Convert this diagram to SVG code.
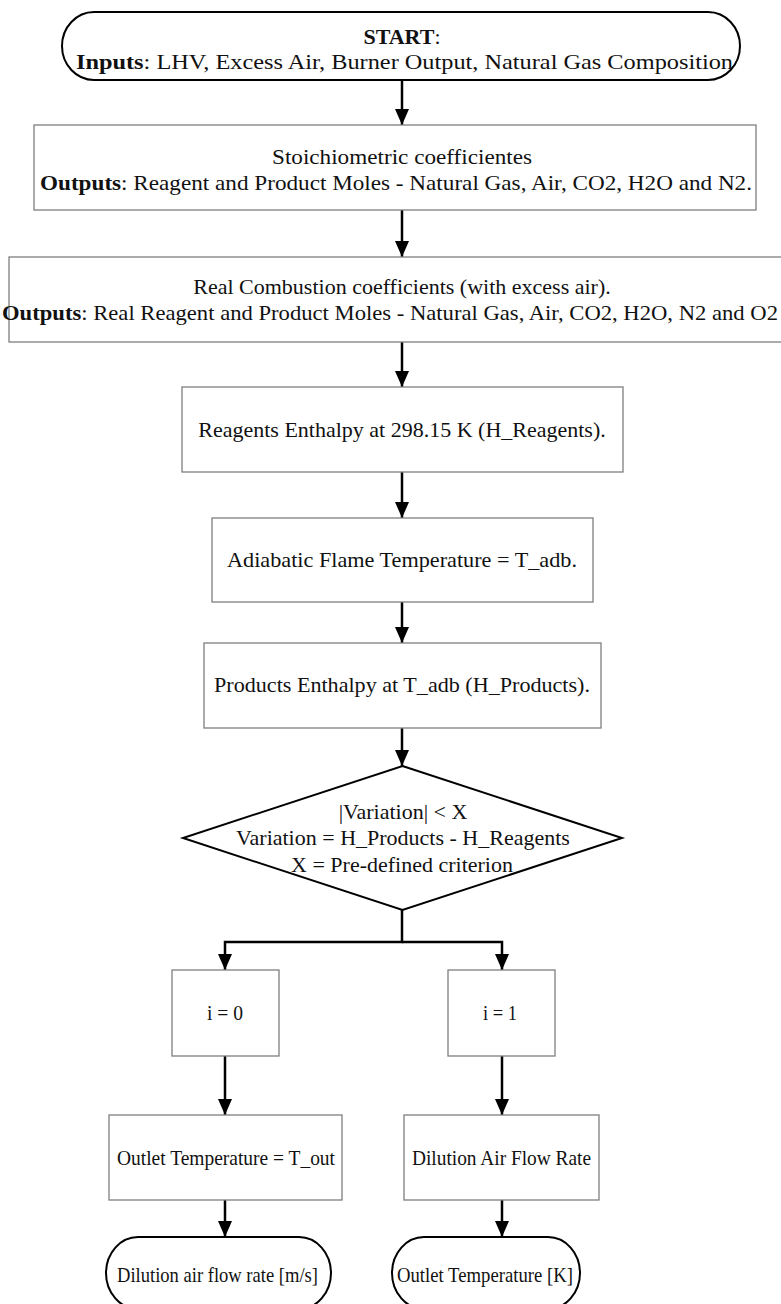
<svg xmlns="http://www.w3.org/2000/svg" width="781" height="1304" viewBox="0 0 781 1304">
<style>
text{font-family:"Liberation Serif","Times New Roman",serif;font-size:22px;fill:#111;text-anchor:middle}
.b{font-weight:bold}
.box{fill:#fff;stroke:#7f7f7f;stroke-width:1.3}
.term{fill:#fff;stroke:#000;stroke-width:2}
.conn{fill:none;stroke:#000;stroke-width:2.5}
</style>
<defs>
<marker id="ah" viewBox="0 0 16 14" refX="16" refY="7" markerWidth="16" markerHeight="14" markerUnits="userSpaceOnUse" orient="auto">
<path d="M0,0 L16,7 L0,14 z" fill="#000"/>
</marker>
</defs>
<rect width="781" height="1304" fill="#fff"/>
<g id="connectors">
<path class="conn" d="M402,80 V125" marker-end="url(#ah)"/>
<path class="conn" d="M402,210 V257" marker-end="url(#ah)"/>
<path class="conn" d="M402,342 V387" marker-end="url(#ah)"/>
<path class="conn" d="M402,472 V518" marker-end="url(#ah)"/>
<path class="conn" d="M402,602 V643" marker-end="url(#ah)"/>
<path class="conn" d="M402,728 V766" marker-end="url(#ah)"/>
<path class="conn" d="M402,910 V942 H225 V970" marker-end="url(#ah)"/>
<path class="conn" d="M402,942 H502 V970" marker-end="url(#ah)"/>
<path class="conn" d="M225,1056 V1115" marker-end="url(#ah)"/>
<path class="conn" d="M502,1056 V1115" marker-end="url(#ah)"/>
<path class="conn" d="M225,1200 V1237" marker-end="url(#ah)"/>
<path class="conn" d="M502,1200 V1237" marker-end="url(#ah)"/>
</g>
<g id="start">
<rect class="term" x="62" y="12" width="678" height="68" rx="32" ry="34"/>
<text x="402" y="44"><tspan class="b">START</tspan>:</text>
<text x="404.5" y="69" textLength="657" lengthAdjust="spacingAndGlyphs"><tspan class="b">Inputs</tspan>: LHV, Excess Air, Burner Output, Natural Gas Composition</text>
</g>
<g id="stoich">
<rect class="box" x="34" y="125" width="722" height="85"/>
<text x="402" y="164" textLength="260" lengthAdjust="spacingAndGlyphs">Stoichiometric coefficientes</text>
<text x="396" y="190" textLength="712" lengthAdjust="spacingAndGlyphs"><tspan class="b">Outputs</tspan>: Reagent and Product Moles - Natural Gas, Air, CO2, H2O and N2.</text>
</g>
<g id="real">
<rect class="box" x="9" y="257" width="790" height="85"/>
<text x="402" y="294">Real Combustion coefficients (with excess air).</text>
<text x="390" y="320" textLength="776" lengthAdjust="spacingAndGlyphs"><tspan class="b">Outputs</tspan>: Real Reagent and Product Moles - Natural Gas, Air, CO2, H2O, N2 and O2</text>
</g>
<g id="reagents">
<rect class="box" x="182" y="387" width="441" height="85"/>
<text x="402" y="437">Reagents Enthalpy at 298.15 K (H_Reagents).</text>
</g>
<g id="adiabatic">
<rect class="box" x="212" y="518" width="381" height="84"/>
<text x="402" y="567" textLength="350" lengthAdjust="spacingAndGlyphs">Adiabatic Flame Temperature = T_adb.</text>
</g>
<g id="products">
<rect class="box" x="204" y="643" width="397" height="85"/>
<text x="402" y="692" textLength="376" lengthAdjust="spacingAndGlyphs">Products Enthalpy at T_adb (H_Products).</text>
</g>
<g id="decision">
<polygon class="term" points="402.5,766 622,838 402.5,910 183,838"/>
<text x="403" y="819">|Variation| &lt; X</text>
<text x="403" y="845">Variation = H_Products - H_Reagents</text>
<text x="402" y="872">X = Pre-defined criterion</text>
</g>
<g id="i0">
<rect class="box" x="172" y="970" width="107" height="86"/>
<text x="225" y="1020" textLength="36" lengthAdjust="spacingAndGlyphs">i = 0</text>
</g>
<g id="i1">
<rect class="box" x="448" y="970" width="107" height="86"/>
<text x="500" y="1020" textLength="34" lengthAdjust="spacingAndGlyphs">i = 1</text>
</g>
<g id="outlet">
<rect class="box" x="109" y="1115" width="233" height="85"/>
<text x="226" y="1165" textLength="218" lengthAdjust="spacingAndGlyphs">Outlet Temperature = T_out</text>
</g>
<g id="dilution">
<rect class="box" x="404" y="1115" width="195" height="85"/>
<text x="501.5" y="1165" textLength="179" lengthAdjust="spacingAndGlyphs">Dilution Air Flow Rate</text>
</g>
<g id="end-left">
<rect class="term" x="106" y="1237" width="225" height="72" rx="32" ry="36"/>
<text x="217.5" y="1282" textLength="201" lengthAdjust="spacingAndGlyphs">Dilution air flow rate [m/s]</text>
</g>
<g id="end-right">
<rect class="term" x="392" y="1237" width="188" height="72" rx="32" ry="36"/>
<text x="485" y="1282" textLength="176" lengthAdjust="spacingAndGlyphs">Outlet Temperature [K]</text>
</g>
</svg>
